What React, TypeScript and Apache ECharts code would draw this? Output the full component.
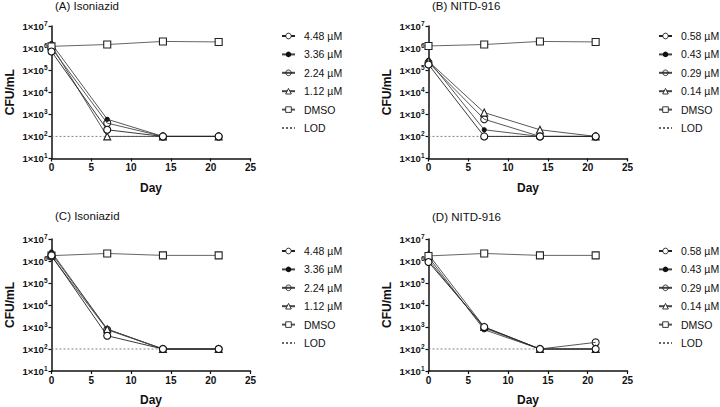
import React, { useEffect, useRef } from "react";
import * as echarts from "echarts";

const days = [0, 7, 14, 21];
const lodDays = [0, 21];
const lodValue = 100;

const inhLabels = ["4.48 µM", "3.36 µM", "2.24 µM", "1.12 µM", "DMSO", "LOD"];
const nitLabels = ["0.58 µM", "0.43 µM", "0.29 µM", "0.14 µM", "DMSO", "LOD"];

const panelTitles = ["(A) Isoniazid", "(B) NITD-916", "(C) Isoniazid", "(D) NITD-916"];

// Panel A – Isoniazid
const inhA448 = [7e5, 200, 100, 100];
const inhA336 = [1.6e6, 600, 100, 100];
const inhA224 = [1.0e6, 400, 100, 100];
const inhA112 = [1.3e6, 100, 100, 100];
const dmsoA = [1.2e6, 1.45e6, 2.0e6, 1.9e6];

// Panel B – NITD-916
const nitB058 = [1.8e5, 100, 100, 100];
const nitB043 = [2.8e5, 200, 100, 100];
const nitB029 = [2.2e5, 600, 100, 100];
const nitB014 = [2.5e5, 1200, 200, 100];
const dmsoB = [1.25e6, 1.45e6, 2.0e6, 1.9e6];

// Panel C – Isoniazid
const inhC448 = [1.8e6, 400, 100, 100];
const inhC336 = [2.6e6, 800, 100, 100];
const inhC224 = [1.6e6, 750, 100, 100];
const inhC112 = [2.2e6, 800, 100, 100];
const dmsoC = [1.75e6, 2.2e6, 1.8e6, 1.8e6];

// Panel D – NITD-916
const nitD058 = [0.9e6, 1000, 100, 100];
const nitD043 = [1.5e6, 750, 100, 100];
const nitD029 = [1.1e6, 900, 100, 200];
const nitD014 = [2.0e6, 1000, 100, 100];
const dmsoD = [1.7e6, 2.2e6, 1.8e6, 1.8e6];

const FONT = "'Liberation Sans', Arial, Helvetica, sans-serif";

const panelData = [
  { labels: inhLabels, values: [inhA448, inhA336, inhA224, inhA112, dmsoA] },
  { labels: nitLabels, values: [nitB058, nitB043, nitB029, nitB014, dmsoB] },
  { labels: inhLabels, values: [inhC448, inhC336, inhC224, inhC112, dmsoC] },
  { labels: nitLabels, values: [nitD058, nitD043, nitD029, nitD014, dmsoD] },
];

const gridPos = [
  { left: 51.5, top: 26, titleTop: 0, legendTop: 30 },
  { left: 428.5, top: 26, titleTop: 0, legendTop: 30 },
  { left: 51.5, top: 239, titleTop: 210, legendTop: 245 },
  { left: 428.5, top: 239, titleTop: 211, legendTop: 245 },
];
const GW = 199;
const GH = 132.5;

const seriesStyles = [
  { symbol: "circle", symbolSize: 7, fill: "#ffffff", stroke: "#111", line: "#222" },
  { symbol: "circle", symbolSize: 4, fill: "#111", stroke: "#111", line: "#444" },
  { symbol: "circle", symbolSize: 7, fill: "rgba(255,255,255,0)", stroke: "#222", line: "#444" },
  { symbol: "triangle", symbolSize: 7, fill: "#ffffff", stroke: "#222", line: "#444" },
  { symbol: "rect", symbolSize: 7, fill: "#ffffff", stroke: "#222", line: "#555" },
];

export default function App() {
  const ref = useRef<HTMLDivElement>(null);

  useEffect(() => {
    if (!ref.current) return;
    const chart = echarts.init(ref.current, undefined, { renderer: "svg" });

    const grids: any[] = [];
    const xAxes: any[] = [];
    const yAxes: any[] = [];
    const series: any[] = [];
    const titles: any[] = [];
    const legends: any[] = [];

    panelData.forEach((p, i) => {
      const g = gridPos[i];
      grids.push({ left: g.left, top: g.top, width: GW, height: GH, containLabel: false });
      xAxes.push({
        type: "value",
        gridIndex: i,
        min: 0,
        max: 25,
        interval: 5,
        name: "Day",
        nameLocation: "middle",
        nameGap: 23,
        nameTextStyle: { fontFamily: FONT, fontSize: 12, fontWeight: "bold", color: "#111" },
        axisLine: { show: true, onZero: false, lineStyle: { color: "#111", width: 1.5 } },
        axisTick: { show: true, length: 3, lineStyle: { color: "#111", width: 1.2 } },
        axisLabel: { fontFamily: FONT, fontSize: 10, fontWeight: "bold", color: "#111", margin: 4 },
        splitLine: { show: false },
      });
      yAxes.push({
        type: "log",
        logBase: 10,
        gridIndex: i,
        min: 10,
        max: 1e7,
        name: "CFU/mL",
        nameLocation: "middle",
        nameGap: 36,
        nameTextStyle: { fontFamily: FONT, fontSize: 12, fontWeight: "bold", color: "#111" },
        axisLine: { show: true, lineStyle: { color: "#111", width: 1.5 } },
        axisTick: { show: true, length: 3, lineStyle: { color: "#111", width: 1.2 } },
        minorTick: { show: false },
        splitLine: { show: false },
        axisLabel: {
          margin: 4,
          formatter: (v: number) => {
            const e = Math.round(Math.log10(v));
            return `{a|1×10}{b|${e}}`;
          },
          rich: {
            a: { fontFamily: FONT, fontSize: 9.5, fontWeight: "bold", color: "#111", lineHeight: 13 },
            b: { fontFamily: FONT, fontSize: 6.5, fontWeight: "bold", color: "#111", lineHeight: 7, verticalAlign: "top" },
          },
        },
      });
      titles.push({
        text: panelTitles[i],
        left: g.left + 3.5,
        top: g.titleTop,
        padding: 0,
        textStyle: { fontFamily: FONT, fontSize: 11.5, fontWeight: "normal", color: "#111" },
      });

      p.values.forEach((vals, k) => {
        const s = seriesStyles[k];
        series.push({
          type: "line",
          name: p.labels[k],
          xAxisIndex: i,
          yAxisIndex: i,
          data: days.map((d, j) => [d, vals[j]]),
          symbol: s.symbol,
          symbolSize: s.symbolSize,
          showAllSymbol: true,
          itemStyle: { color: s.fill, borderColor: s.stroke, borderWidth: 1.1 },
          lineStyle: { color: s.line, width: 0.9 },
          z: 3 + (k === 0 ? 1 : 0),
        });
      });
      series.push({
        type: "line",
        name: "LOD",
        xAxisIndex: i,
        yAxisIndex: i,
        data: lodDays.map((d) => [d, lodValue]),
        symbol: "none",
        itemStyle: { color: "#666" },
        lineStyle: { color: "#666", width: 0.8, type: [2, 2] },
        z: 2,
      });

      legends.push({
        data: p.labels.map((name, k) =>
          k === 5
            ? { name, itemStyle: { color: "rgba(0,0,0,0)", borderColor: "rgba(0,0,0,0)", borderWidth: 0 } }
            : k === 1
            ? { name, itemStyle: { borderWidth: 0 } }
            : { name, itemStyle: { borderWidth: 0.9 } }
        ),
        orient: "vertical",
        left: g.left + 229.5,
        top: g.legendTop,
        padding: 0,
        itemWidth: 13,
        itemHeight: 7,
        itemGap: 6.4,
        selectedMode: false,
        textStyle: { fontFamily: FONT, fontSize: 10.5, color: "#111", lineHeight: 12, padding: [0, 0, 0, 4] },
      });
    });

    chart.setOption({
      animation: false,
      backgroundColor: "#ffffff",
      title: titles,
      grid: grids,
      xAxis: xAxes,
      yAxis: yAxes,
      legend: legends,
      series,
    });

    return () => chart.dispose();
  }, []);

  return (
    <div
      ref={ref}
      style={{ position: "fixed", left: 0, top: 0, width: 720, height: 407, background: "#fff" }}
    />
  );
}
